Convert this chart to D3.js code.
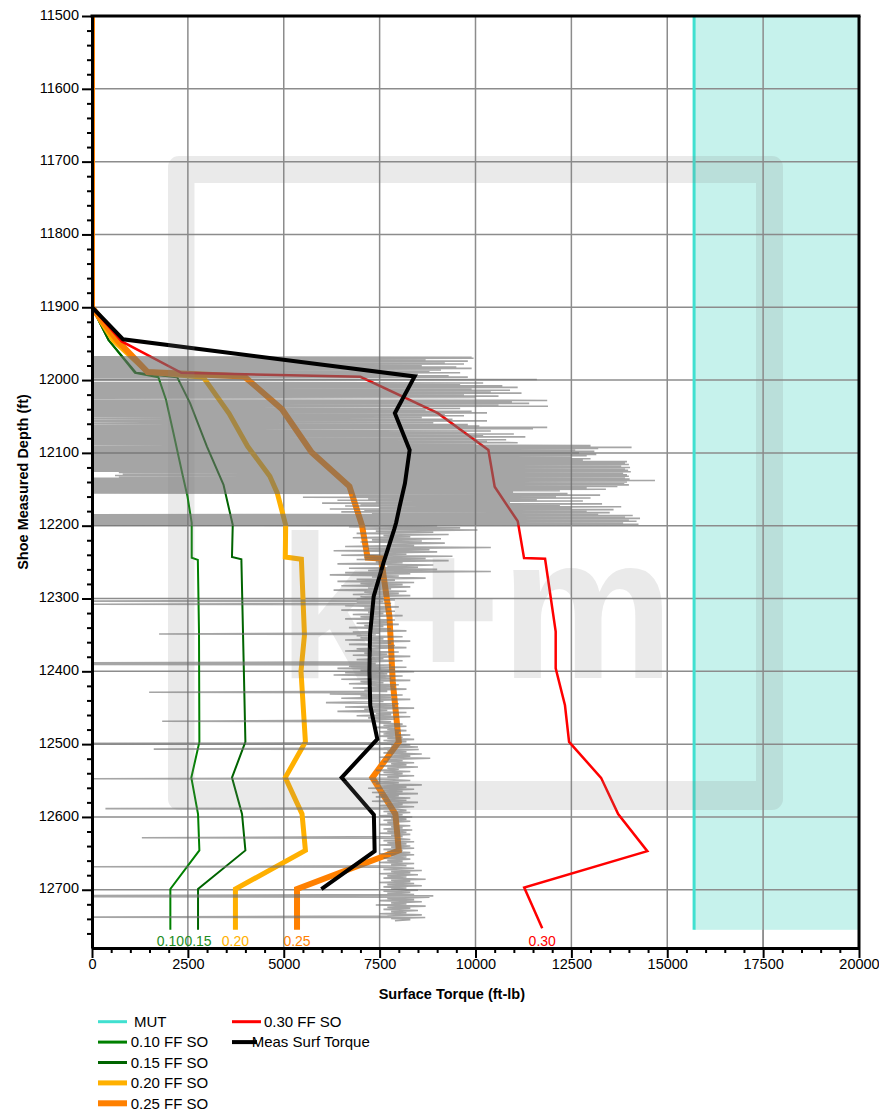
<!DOCTYPE html>
<html>
<head>
<meta charset="utf-8">
<script src="https://cdn.jsdelivr.net/npm/d3@7"></script>
<style>
  html, body { margin: 0; padding: 0; background: #fff; }
  svg { display: block; font-family: "Liberation Sans", Arial, Helvetica, sans-serif; }
</style>
</head>
<body>
<svg id="chart" width="879" height="1114"></svg>
<script>
// ---------- data ----------
const depthTicks = [11500, 11600, 11700, 11800, 11900, 12000, 12100, 12200, 12300, 12400, 12500, 12600, 12700];
const torqueTicks = [0, 2500, 5000, 7500, 10000, 12500, 15000, 17500, 20000];

// make-up torque limit (ft-lb) and the depth it is shown to
const mutTorque = 15700;
const mutDepthRange = [11500, 12755];

// modelled surface torque, slack-off, [depth ft, torque ft-lb]
const ff010 = [[11500,0],[11900,0],[11945,430],[11990,1120],[11996,1730],[12027,1930],[12073,2125],[12132,2370],[12160,2490],[12196,2600],[12244,2600],[12247,2760],[12345,2790],[12497,2800],[12546,2590],[12596,2765],[12646,2800],[12699,2043],[12755,2043]];
const ff015 = [[11500,0],[11900,0],[11945,430],[11990,1150],[11996,2220],[12032,2560],[12091,2995],[12144,3430],[12199,3670],[12243,3650],[12246,3895],[12400,3960],[12497,4000],[12546,3650],[12596,3912],[12646,4000],[12699,2765],[12755,2765]];
const ff020 = [[11500,0],[11900,0],[11945,550],[11989,1450],[11996,2900],[12046,3575],[12091,4057],[12132,4637],[12155,4830],[12199,5050],[12243,5040],[12246,5460],[12350,5540],[12400,5450],[12497,5565],[12546,5040],[12596,5477],[12646,5565],[12699,3740],[12755,3740]];
const ff025 = [[11500,0],[11900,0],[11945,650],[11989,1450],[11995,3970],[12040,4955],[12099,5725],[12146,6713],[12200,7042],[12244,7185],[12245,7537],[12325,7757],[12414,7842],[12497,8000],[12546,7310],[12596,7911],[12646,8000],[12674,6600],[12699,5346],[12755,5346]];
const ff030 = [[11500,0],[11900,0],[11947,775],[11990,2330],[11995.5,7000],[12045.5,9018],[12096,10336],[12146.6,10500],[12194,11102],[12244.5,11266],[12245.5,11814],[12345.5,12091],[12396,12091],[12446.6,12333],[12497,12440],[12546.3,13275],[12596,13720],[12647,14480],[12697,11270],[12753,11740]];

// measured surface torque, averaged per stand
const measTorque = [[11500,0],[11900,0],[11944,810],[11995,8413],[12045.5,7897],[12096,8283],[12142,8160],[12174,8020],[12196,7930],[12205,7880],[12251,7600],[12297,7345],[12349,7250],[12400,7235],[12447,7255],[12493,7440],[12546,6510],[12597,7350],[12647,7370],[12699,5980]];

// raw surface torque log, [depth ft, torque ft-lb]
const rawTorque = [
[11968,0],[11968.6,9900],[11969.4,0],[11970,9950],[11971,0],[11972,8700],[11973,0],[11974,9800],[11975,0],[11976,9200],[11977,0],[11978,9700],[11979,0],[11980,8600],[11981,0],[11982,9500],[11983,0],[11984,9900],[11985,0],[11986,9100],[11987,0],[11988,8800],[11989,0],[11990,9600],[11991,0],[11992,8500],[11993,0],[11994,9300],[11995,0],[11996,9800],[11996.5,0],
[11998.8,0],[11999.2,11600],[11999.6,0],
[12003,0],[12004,10200],[12005,0],[12006,9600],[12007,0],[12008,10700],[12009,0],[12010,11100],[12011,0],[12012,9900],[12013,0],[12014,10900],[12015,0],[12016,10400],[12017,0],[12018,11200],[12019,0],[12020,9700],[12021,0],[12022,10600],[12023,0],[12024,10000],[12025,0],
[12027,0],[12028,11870],[12029,0],[12030,10950],[12031,0],[12032,11400],[12033,0],[12034,10600],[12035,0],[12036,11890],[12036.5,0],
[12038,0],[12039,9600],[12040,0],[12041,8700],[12042,0],[12043,9900],[12044,0],[12045,10300],[12046,0],[12047,9200],[12048,0],[12049,9700],[12050,0],
[12051.5,8600],[12052.5,0],[12054,9400],[12055,0],[12056,10300],[12057,0],[12058.5,8900],[12059.5,0],[12061,9800],[12062,0],[12063,10100],[12064,0],
[12065,11870],[12066,0],[12066.8,11500],[12067.5,0],
[12069,0],[12070,10400],[12071,0],[12072,9700],[12073,0],[12074,11000],[12075,0],[12076,10200],[12077,0],[12078,11300],[12079,0],[12080,9900],[12081,0],[12082,10800],[12083,0],[12084,10300],[12085,0],[12086,11100],[12087,0],[12088,10000],[12088.5,0],
[12090,13000],[12091,0],[12092.5,14070],[12093,0],[12094,13200],[12095,0],
[12096,12600],[12097,0],[12098,13100],[12099,0],[12100,12700],[12101,0],[12102,13150],[12103,0],[12104,12900],[12105,0],[12106,12500],[12107,0],[12108,13000],[12109,0],[12110,12800],[12111,0],
[12112,13950],[12113,0],[12114,13900],[12115,0],[12116,14000],[12117,0],[12118,13800],[12119,0],[12120,14030],[12121,0],[12122,13900],[12123,0],[12124,13980],[12125,0],[12126,14050],[12127,700],[12128,13850],[12129,800],[12130,13950],[12131,600],[12132,14000],[12133,700],[12134,13900],[12135,0],[12136,14020],[12137,0],[12138,14680],[12139,0],[12140,13950],[12141,0],[12142,13880],[12143,0],[12144,14000],[12145,0],[12146,13700],[12147,0],[12148,12900],[12149,0],[12150,13400],[12151,0],[12152,12200],[12153,0],
[12154,10980],[12155,0],[12156,12400],[12157,6800],
[12158,13250],[12159,6800],[12160,12100],[12161,5500],[12162,13000],[12163,7200],[12164,11600],[12165,6400],[12166,12800],[12167,7400],[12168,10900],[12169,6000],[12170,13300],[12171,7000],[12172,12200],[12173,6600],[12174,13800],[12175,7500],[12176,12500],[12177,6200],[12178,13600],[12179,7100],[12180,12900],[12181,6500],[12182,13500],[12183,7300],[12184,13200],
[12185,0],[12186,14100],[12187,0],[12188,13900],[12189,0],[12190,14290],[12191,0],[12192,14000],[12193,0],[12194,14200],[12195,0],[12196,13850],[12197,0],[12198,14250],[12199,0],
[12200,9000],[12201.5,6700],[12203,9600],[12204.5,7100],[12206,10050],[12207.5,7400],[12209,8900],[12210.5,6900],[12212,9300],[12213.5,7600],[12215,8300],[12216.5,6800],[12218,9100],[12219.5,7300],[12221,8600],[12222.5,7000],[12224,9200],[12225.5,7800],[12227,8400],[12228.5,6600],[12230,10400],[12231.5,7200],[12233,8800],[12234.5,6300],[12236,9000],[12237.5,7500],[12239,8200],[12240.5,6500],[12242,9400],[12243.5,7100],[12245,8700],[12246.5,6900],[12248,9300],[12249.5,7400],[12251,8100],[12252.5,6400],[12254,8900],[12255.5,7700],[12257,8500],[12258.5,6700],[12260,9000],[12261.5,7200],[12263,10400],[12264.5,6600],[12266,8300],[12267.5,6200],[12269,8000],[12270.5,7300],[12272,8700],[12273.5,6900],[12275,7900],[12276.5,6400],[12278,8400],[12279.5,7000],[12281,8100],[12282.5,6500],[12284,8300],[12285.5,7200],[12287,7800],[12288.5,6300],[12290,8200],[12291.5,7100],[12293,8000],[12294.5,6800],[12296,8300],[12297.5,7000],[12299,7600],[12300.5,6900],[12302,7900],
[12303.6,0],[12304.2,7600],[12305.5,6900],[12306.8,7800],[12307.8,0],[12308.4,7500],[12310,6600],[12311.5,8000],[12313,7100],[12314.5,7700],[12316,6500],[12317.5,7900],[12319,7200],[12320.5,7600],[12322,6800],[12323.5,8100],[12325,7000],[12326.5,7500],[12328,6600],[12329.5,7900],[12331,7300],[12332.5,7700],[12334,6900],[12335.5,8000],[12337,7100],[12338.5,7600],[12340,6700],[12341.5,7800],[12343,7200],[12344.5,8200],[12346,6800],[12347.5,7500],[12348.8,1750],[12349.4,7400],[12351,6900],[12352.5,8100],[12354,7000],[12355.5,7600],[12357,6600],[12358.5,8300],[12360,7200],[12361.5,7800],[12363,6700],[12364.5,7900],[12366,7300],[12367.5,8200],[12369,6900],[12370.5,7500],[12372,6600],[12373.5,8000],[12375,7100],[12376.5,7700],[12378,6800],[12379.5,8300],[12381,7300],[12382.5,7600],[12384,6900],[12385.5,8100],[12387,7200],[12388.4,0],[12389.2,7400],[12390.6,0],[12391.4,7800],
[12393,6700],[12394.5,8200],[12396,6400],[12397.5,7900],[12399,7000],[12400.5,8400],[12402,6600],[12403.5,7700],[12405,6300],[12406.5,8100],[12408,7200],[12409.5,7800],[12411,6500],[12412.5,8300],[12414,7000],[12415.5,7600],[12417,6700],[12418.5,8000],[12420,7300],[12421.5,7900],[12423,6800],[12424.5,8200],[12426,7100],[12427.5,7700],[12428.8,1490],[12429.4,7300],[12431,6200],[12432.5,8100],[12434,7000],[12435.5,7800],[12437,6500],[12438.5,8300],[12440,7200],[12441.5,7600],[12443,6100],[12444.5,8000],[12446,7300],[12447.5,7900],[12449,6600],[12450.5,8400],[12452,7100],[12453.5,7700],[12455,6400],[12456.5,8200],[12458,7400],[12459.5,7800],[12461,6900],[12462.5,8300],[12464,7200],[12465.5,7900],[12467,7400],[12468.6,1830],[12469.2,7800],
[12471,7500],[12472.5,8100],[12474,7600],[12475.5,8200],[12477,7400],[12478.5,7900],[12480,7700],[12481.5,8200],[12483,7500],[12484.5,8000],[12486,7600],[12487.5,8300],[12489,7500],[12490.5,8100],[12492,7700],[12493.5,8400],[12495,7600],[12496.5,8200],[12498,7700],[12498.8,0],[12499.4,7500],[12501,8300],[12502.5,7800],[12504,8500],[12505.5,7600],[12506.8,1610],[12507.4,8520],[12509,7700],[12510.5,8200],[12512,7600],[12513.5,8600],[12515,7800],[12516.5,8300],[12518,7500],[12519.5,8820],[12521,7700],[12522.5,8100],[12524,7600],[12525.5,8400],[12527,7800],[12528.5,8200],[12530,7500],[12531.5,8500],[12533,7700],[12534.5,8000],[12536,7400],[12537.5,8300],[12539,7600],[12540.5,8100],[12542,7500],[12543.5,8400],[12545,7700],[12546.5,8000],[12547.6,0],[12548.2,7600],
[12550,8300],[12551.5,7300],[12553,8000],[12554.5,7400],[12556,8600],[12557.5,7500],[12559,8200],[12560.5,7200],[12562,8400],[12563.5,7600],[12565,8100],[12566.5,7300],[12568,8500],[12569.5,7500],[12571,8000],[12572.5,7400],[12574,8300],[12575.5,7600],[12577,8200],[12578.5,7300],[12580,8500],[12581.5,7700],[12583,8100],[12584.5,7500],[12586,8400],[12587.5,7600],[12588.6,350],[12589.2,7900],[12591,8200],[12592.5,7600],[12594,8300],[12595.5,7700],[12597,8100],[12598.5,7500],[12600,8350],[12601.5,7800],[12603,8200],[12604.5,7600],[12606,8300],[12607.5,7700],[12609,8000],[12610.5,7500],[12612,8300],[12613.5,7800],[12615,8100],[12616.5,7600],[12618,8350],[12619.5,7700],[12621,8200],[12622.5,7500],[12624,8300],[12625.5,7800],[12627,8100],[12628.6,1300],[12629.2,7900],
[12631,8300],[12632.5,7600],[12634,8400],[12635.5,7700],[12637,8200],[12638.5,7500],[12640,8300],[12641.5,7800],[12643,8400],[12644.5,7600],[12646,8100],[12647.5,7700],[12649,8300],[12650.5,7500],[12652,8400],[12653.5,7800],[12655,8200],[12656.5,7600],[12658,8300],[12659.5,7700],[12661,8100],[12662.5,7500],[12664,8400],[12665.5,7800],[12667,8200],[12668.4,0],[12669,7700],[12670.5,8400],[12672,7600],[12673.5,8600],[12675,7800],[12676.5,8300],[12678,7500],[12679.5,8500],[12681,7700],[12682.5,8200],[12684,7600],[12685.5,8700],[12687,7800],[12688.5,8300],[12690,7500],[12691.5,8400],[12693,7700],[12694.5,8600],[12696,7600],[12697.5,8200],[12699,7800],[12700.5,8500],[12702,7600],[12703.5,8300],[12705,7700],[12706.5,8400],[12707.8,0],[12708.4,8900],[12709.6,0],[12710.2,8800],
[12712,7700],[12713.5,8400],[12715,7500],[12716.5,8600],[12718,7800],[12719.5,8200],[12721,7400],[12722.5,8700],[12724,7700],[12725.5,8300],[12727,7600],[12728.5,8500],[12730,7800],[12731.5,8200],[12733,7500],[12734.5,8600],[12736,7700],[12737.6,0],[12738.2,8690],[12739.5,7800],[12741,8300],[12742.5,7900]
];

// legend / end-label text
const ffLabels = ["0.10", "0.15", "0.20", "0.25", "0.30"];
const legendLabels = ["MUT", "0.10 FF SO", "0.15 FF SO", "0.20 FF SO", "0.25 FF SO", "0.30 FF SO", "Meas Surf Torque"];

// ---------- styles ----------
const style = {
  mut:  { color: "#40E0D0", width: 3, fill: "#C6F2EC" },
  f010: { color: "#008000", width: 2 },
  f015: { color: "#006400", width: 2 },
  f020: { color: "#FFB000", width: 5 },
  f025: { color: "#FF8000", width: 6 },
  f030: { color: "#FF0000", width: 2.5 },
  meas: { color: "#000000", width: 4 },
  raw:  { color: "#6E6E6E", width: 1.6, opacity: 0.62 }
};

// ---------- layout ----------
const svg = d3.select("#chart");
const M = { left: 92, right: 859, top: 16, bottom: 948 };
const x = d3.scaleLinear().domain([0, 20000]).range([M.left, M.right]);
const y = d3.scaleLinear().domain([11500, 12780]).range([M.top, M.bottom]);

svg.append("defs").append("clipPath").attr("id", "plotClip")
  .append("rect").attr("x", M.left).attr("y", M.top)
  .attr("width", M.right - M.left).attr("height", M.bottom - M.top);

// grid
const grid = svg.append("g").attr("stroke", "#8C8C8C").attr("stroke-width", 1.5);
grid.selectAll("line.h").data(depthTicks.slice(1)).join("line")
  .attr("x1", M.left).attr("x2", M.right).attr("y1", d => y(d)).attr("y2", d => y(d));
grid.selectAll("line.v").data(torqueTicks.slice(1, -1)).join("line")
  .attr("y1", M.top).attr("y2", M.bottom).attr("x1", d => x(d)).attr("x2", d => x(d));

const plot = svg.append("g").attr("clip-path", "url(#plotClip)");

// make-up torque band
plot.append("rect")
  .attr("x", x(mutTorque)).attr("y", y(mutDepthRange[0]))
  .attr("width", x(20000) - x(mutTorque)).attr("height", y(mutDepthRange[1]) - y(mutDepthRange[0]))
  .attr("fill", style.mut.fill);
// grid lines stay visible across the band
plot.append("g").attr("stroke", "#8C8C8C").attr("stroke-width", 1.5)
  .selectAll("line").data(torqueTicks.filter(t => t > mutTorque && t < 20000)).join("line")
  .attr("y1", M.top).attr("y2", M.bottom).attr("x1", d => x(d)).attr("x2", d => x(d));
plot.append("g").attr("stroke", "#8C8C8C").attr("stroke-width", 1.5)
  .selectAll("line").data(depthTicks.slice(1)).join("line")
  .attr("x1", x(mutTorque)).attr("x2", M.right).attr("y1", d => y(d)).attr("y2", d => y(d));
plot.append("line")
  .attr("x1", x(mutTorque)).attr("x2", x(mutTorque))
  .attr("y1", y(mutDepthRange[0])).attr("y2", y(mutDepthRange[1]))
  .attr("stroke", style.mut.color).attr("stroke-width", style.mut.width);

// company mark behind the curves
const wm = svg.append("g").attr("fill", "rgba(128,128,128,0.17)");
wm.append("path").attr("fill-rule", "evenodd").attr("d", (() => {
  const p = d3.path();
  const o = { x0: 168, y0: 156, x1: 783, y1: 810, r: 11 };
  p.moveTo(o.x0 + o.r, o.y0); p.lineTo(o.x1 - o.r, o.y0); p.arcTo(o.x1, o.y0, o.x1, o.y0 + o.r, o.r);
  p.lineTo(o.x1, o.y1 - o.r); p.arcTo(o.x1, o.y1, o.x1 - o.r, o.y1, o.r);
  p.lineTo(o.x0 + o.r, o.y1); p.arcTo(o.x0, o.y1, o.x0, o.y1 - o.r, o.r);
  p.lineTo(o.x0, o.y0 + o.r); p.arcTo(o.x0, o.y0, o.x0 + o.r, o.y0, o.r); p.closePath();
  p.moveTo(194.5, 183); p.lineTo(756, 183); p.lineTo(756, 781); p.lineTo(194.5, 781); p.closePath();
  return p.toString();
})());
wm.append("text").attr("x", 278).attr("y", 678)
  .attr("font-size", 205).attr("font-weight", "bold")
  .attr("textLength", 396).attr("lengthAdjust", "spacingAndGlyphs")
  .text("k+m");

// curves
const line = d3.line().x(d => x(d[1])).y(d => y(d[0]));
const ffSeries = [
  { data: ff010, s: style.f010 },
  { data: ff015, s: style.f015 },
  { data: ff020, s: style.f020 },
  { data: ff025, s: style.f025 },
  { data: ff030, s: style.f030 }
];
plot.selectAll("path.ff").data(ffSeries).join("path")
  .attr("class", "ff")
  .attr("d", d => line(d.data))
  .attr("fill", "none").attr("stroke", d => d.s.color).attr("stroke-width", d => d.s.width)
  .attr("stroke-linejoin", "miter");

plot.append("path").attr("d", line(rawTorque))
  .attr("fill", "none").attr("stroke", style.raw.color)
  .attr("stroke-opacity", style.raw.opacity).attr("stroke-width", style.raw.width)
  .attr("stroke-linejoin", "bevel");

plot.append("path").attr("d", line(measTorque))
  .attr("fill", "none").attr("stroke", style.meas.color).attr("stroke-width", style.meas.width)
  .attr("stroke-linejoin", "miter");

// end-of-curve labels
svg.selectAll("text.endlab").data(ffSeries).join("text")
  .attr("class", "endlab")
  .attr("x", d => x(d.data[d.data.length - 1][1]))
  .attr("y", 946)
  .attr("text-anchor", "middle").attr("font-size", 14)
  .attr("fill", (d, i) => i < 2 ? "#1E8C1E" : d.s.color)
  .text((d, i) => ffLabels[i]);

// axes
const yAxis = svg.append("g").attr("transform", `translate(${M.left},0)`)
  .call(d3.axisLeft(y).tickValues(depthTicks).tickSize(10).tickSizeOuter(0).tickPadding(3).tickFormat(d3.format("d")));
svg.append("g").attr("transform", `translate(${M.left},0)`)
  .call(d3.axisLeft(y).tickValues(d3.range(11520, 12780, 20).filter(v => v % 100 !== 0)).tickSize(5).tickSizeOuter(0).tickFormat(""))
  .call(g => g.select(".domain").remove());
svg.append("g").attr("transform", `translate(0,${M.bottom})`)
  .call(d3.axisBottom(x).tickValues(torqueTicks).tickSize(10).tickSizeOuter(0).tickPadding(1).tickFormat(d3.format("d")));
svg.append("g").attr("transform", `translate(0,${M.bottom})`)
  .call(d3.axisBottom(x).tickValues(d3.range(500, 20000, 500).filter(v => v % 2500 !== 0)).tickSize(5).tickSizeOuter(0).tickFormat(""))
  .call(g => g.select(".domain").remove());

svg.selectAll(".tick line").attr("stroke", "#000").attr("stroke-width", 2);
svg.selectAll(".domain").attr("stroke", "#000").attr("stroke-width", 3);
svg.selectAll(".tick text").attr("font-size", 14.5).attr("font-family", "Liberation Sans, Arial, sans-serif").attr("fill", "#000");
yAxis.selectAll(".tick text").attr("dy", "0.22em");

// frame top and right
svg.append("line").attr("x1", M.left - 1.5).attr("x2", M.right + 1.5).attr("y1", M.top).attr("y2", M.top)
  .attr("stroke", "#000").attr("stroke-width", 3);
svg.append("line").attr("x1", M.right).attr("x2", M.right).attr("y1", M.top).attr("y2", M.bottom)
  .attr("stroke", "#000").attr("stroke-width", 3);

// axis titles
svg.append("text").attr("x", 525).attr("y", 999).attr("text-anchor", "end")
  .attr("font-size", 14.5).attr("font-weight", "bold").text("Surface Torque (ft-lb)");
svg.append("text").attr("transform", `translate(28,${(M.top + M.bottom) / 2}) rotate(-90)`)
  .attr("text-anchor", "middle").attr("font-size", 14.5).attr("font-weight", "bold")
  .text("Shoe Measured Depth (ft)");

// legend
const legendStyles = [style.mut, style.f010, style.f015, style.f020, style.f025, style.f030, style.meas];
const legend = svg.append("g").attr("font-size", 15);
legendLabels.forEach((lab, i) => {
  const col = i < 5 ? 0 : 1;
  const row = i < 5 ? i : i - 5;
  const cy = 1021.7 + row * 20.4;
  const sx = col === 0 ? 98 : 232;
  const sw = (col === 1 && row === 1) ? 25 : 29;
  legend.append("line").attr("x1", sx).attr("x2", sx + sw).attr("y1", cy).attr("y2", cy)
    .attr("stroke", legendStyles[i].color).attr("stroke-width", Math.max(3, legendStyles[i].width));
  const tx = col === 0 ? (i === 0 ? 134 : 130.7) : (row === 0 ? 264 : 251.7);
  legend.append("text").attr("x", tx).attr("y", cy + 5.3).text(lab);
});
</script>
</body>
</html>
